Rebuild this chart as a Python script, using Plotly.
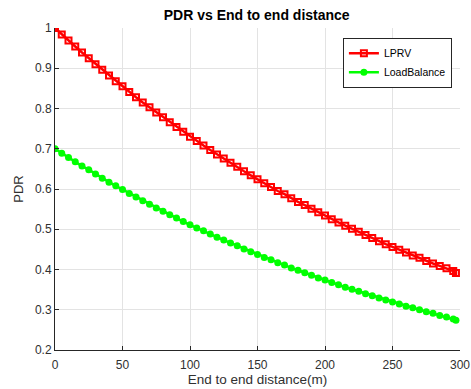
import plotly.graph_objects as go

distance = list(range(0, 300, 5)) + [297]
lprv = [1.000, 0.984, 0.969, 0.954, 0.939, 0.925, 0.910, 0.896, 0.882, 0.868,
        0.855, 0.841, 0.828, 0.815, 0.803, 0.790, 0.778, 0.766, 0.754, 0.742,
        0.730, 0.719, 0.708, 0.697, 0.686, 0.676, 0.665, 0.655, 0.644, 0.634,
        0.624, 0.614, 0.605, 0.595, 0.587, 0.577, 0.568, 0.560, 0.551, 0.542,
        0.534, 0.525, 0.517, 0.509, 0.501, 0.494, 0.486, 0.478, 0.470, 0.463,
        0.456, 0.449, 0.442, 0.435, 0.429, 0.421, 0.415, 0.409, 0.403, 0.396,
        0.391]
loadbalance = [0.700, 0.689, 0.678, 0.668, 0.657, 0.648, 0.637, 0.627, 0.617, 0.608,
               0.599, 0.589, 0.580, 0.571, 0.562, 0.553, 0.545, 0.536, 0.528, 0.519,
               0.511, 0.503, 0.496, 0.488, 0.480, 0.473, 0.466, 0.459, 0.451, 0.444,
               0.437, 0.430, 0.424, 0.417, 0.411, 0.404, 0.398, 0.392, 0.386, 0.379,
               0.374, 0.368, 0.362, 0.356, 0.351, 0.346, 0.340, 0.335, 0.329, 0.324,
               0.319, 0.314, 0.309, 0.305, 0.300, 0.295, 0.291, 0.286, 0.282, 0.277,
               0.274]
x_ticks = [0, 50, 100, 150, 200, 250, 300]
y_ticks = [0.2, 0.3, 0.4, 0.5, 0.6, 0.7, 0.8, 0.9, 1]
y_tick_labels = ["0.2", "0.3", "0.4", "0.5", "0.6", "0.7", "0.8", "0.9", "1"]

FONT = "Liberation Sans, Arial, sans-serif"

fig = go.Figure()
fig.add_trace(go.Scatter(
    x=distance, y=lprv, name="LPRV", mode="lines+markers",
    line=dict(color="#ff0000", width=2.5),
    marker=dict(symbol="square-open", size=6, color="#ff0000", line=dict(width=2, color="#ff0000")),
))
fig.add_trace(go.Scatter(
    x=distance, y=loadbalance, name="LoadBalance", mode="lines+markers",
    line=dict(color="#00ff00", width=2.5),
    marker=dict(symbol="circle", size=7, color="#00ff00"),
))

axis_common = dict(
    showgrid=True, gridcolor="#e3e3e3", gridwidth=1,
    zeroline=False, showline=True, linecolor="#262626", linewidth=1,
    ticks="inside", ticklen=4, tickcolor="#262626",
    tickfont=dict(family=FONT, size=12, color="#303030"),
    mirror=False, automargin=False,
)

fig.update_layout(
    width=471, height=389,
    margin=dict(l=55, r=11, t=28, b=39),
    paper_bgcolor="white", plot_bgcolor="white",
    title=dict(text="<b>PDR vs End to end distance</b>", x=0.545, xanchor="center",
               y=0.961, yanchor="middle",
               font=dict(family=FONT, size=14, color="#000000")),
    xaxis=dict(range=[0, 300], tickvals=x_ticks, ticklabelstandoff=4,
               title=dict(text="End to end distance(m)", standoff=3,
                          font=dict(family=FONT, size=13.5, color="#303030")),
               **axis_common),
    yaxis=dict(range=[0.2, 1], tickvals=y_ticks, ticktext=y_tick_labels,
               title=dict(text="PDR", standoff=8,
                          font=dict(family=FONT, size=13, color="#303030")),
               **axis_common),
    legend=dict(x=0.98, y=0.97, xanchor="right", yanchor="top",
                bgcolor="white", bordercolor="#262626", borderwidth=1,
                font=dict(family=FONT, size=10.5, color="#000000"),
                tracegroupgap=0, itemwidth=30),
    showlegend=True,
)

fig.write_html("out.html")
